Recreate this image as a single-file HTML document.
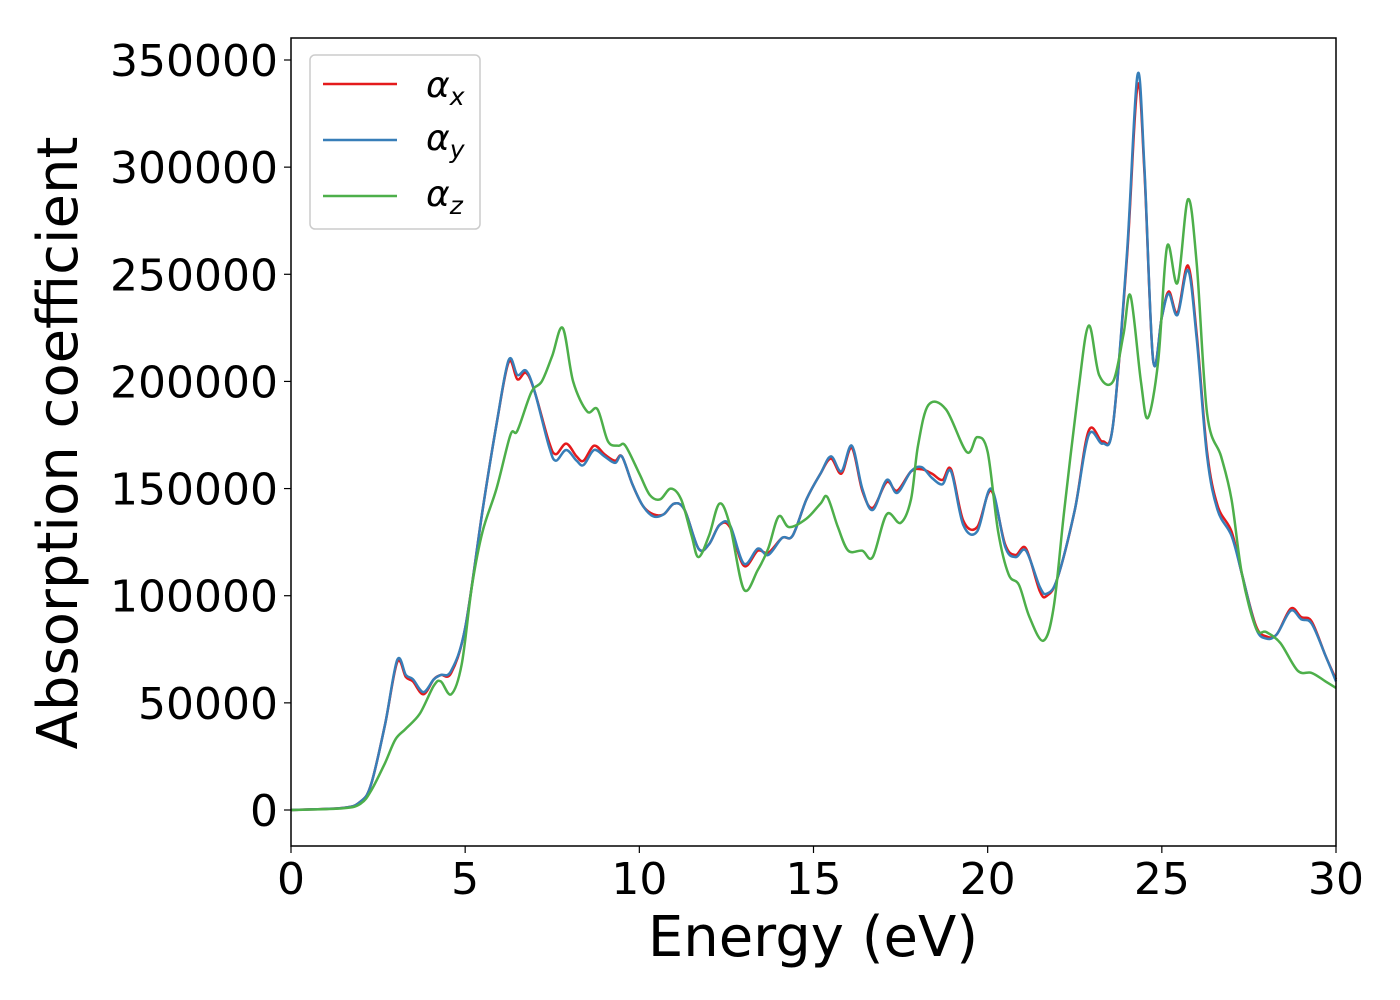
<!DOCTYPE html>
<html><head><meta charset="utf-8">
<style>
html,body{margin:0;padding:0;background:#fff;}
svg{display:block;font-family:"DejaVu Sans","Liberation Sans",sans-serif;}
</style></head>
<body>
<svg id="chart" width="1400" height="1000" viewBox="0 0 1400 1000" xmlns="http://www.w3.org/2000/svg">
<rect width="1400" height="1000" fill="#fff"/>
<g id="series"></g>
<rect x="291" y="38" width="1045" height="808" fill="none" stroke="#000" stroke-width="1.5"/>
<g id="xticks"></g>
<g id="yticks"></g>
<text x="813" y="956" font-size="56" text-anchor="middle">Energy (eV)</text>
<text transform="translate(77,443) rotate(-90)" font-size="56" text-anchor="middle">Absorption coefficient</text>
<g>
<rect x="310" y="55" width="170" height="174" rx="5" fill="#fff" stroke="#ccc" stroke-width="1.5"/>
<g><line x1="323" y1="84" x2="397" y2="84" stroke="#e41a1c" stroke-width="2.5"/><text x="426" y="97" font-size="36" font-style="italic">α<tspan font-size="25" dy="8">x</tspan></text></g>
<g><line x1="323" y1="140" x2="397" y2="140" stroke="#377eb8" stroke-width="2.5"/><text x="426" y="150" font-size="36" font-style="italic">α<tspan font-size="25" dy="8">y</tspan></text></g>
<g><line x1="323" y1="196" x2="397" y2="196" stroke="#4daf4a" stroke-width="2.5"/><text x="426" y="206" font-size="36" font-style="italic">α<tspan font-size="25" dy="8">z</tspan></text></g>
</g>
</svg>
<script>
const xTicks=[0,5,10,15,20,25,30];
const yTicks=[0,50000,100000,150000,200000,250000,300000,350000];
const energyY=[0,1.5,2.0,2.3,2.7,3.05,3.3,3.5,3.8,4.1,4.3,4.6,5.0,5.5,5.9,6.25,6.5,6.75,7.0,7.4,7.6,7.9,8.2,8.4,8.7,9.0,9.3,9.5,9.8,10.1,10.4,10.7,11.0,11.3,11.7,12.0,12.3,12.6,13.0,13.4,13.7,14.1,14.4,14.8,15.2,15.5,15.8,16.1,16.4,16.7,17.1,17.4,17.8,18.1,18.4,18.7,18.95,19.3,19.7,20.1,20.5,20.8,21.1,21.5,21.7,22.0,22.5,22.9,23.3,23.6,24.0,24.3,24.5,24.75,25.0,25.2,25.45,25.75,26.0,26.3,26.6,27.0,27.3,27.7,28.0,28.3,28.7,29.0,29.3,29.7,30.0];
const alphaY=[0,1000,4000,12000,40000,70000,63000,61000,55000,61000,63000,65000,85000,140000,180000,210000,203000,205000,195000,170000,163000,168000,163000,161000,168000,165000,162000,165000,152000,142000,137000,138000,143000,140000,122000,124000,133000,133000,115000,122000,119000,127000,128000,145000,157000,165000,158000,170000,150000,140000,154000,148000,158000,160000,155000,152000,158000,133000,130000,150000,123000,118000,121000,104000,101000,108000,140000,175000,171000,180000,260000,343000,300000,210000,230000,241000,231000,252000,220000,165000,140000,128000,110000,85000,80000,82000,93000,89000,87000,72000,60000];
const alphaX=[0,1000,4000,12000,40000,69000,62000,60000,54000,61000,63000,64000,85000,140000,180000,209000,201000,204000,195000,172000,166000,171000,165000,163000,170000,166000,163000,165000,152000,142000,138000,138000,143000,140000,122000,124000,133000,132000,114000,121000,120000,127000,128000,145000,157000,164000,157000,169000,149000,141000,153000,149000,158000,159000,157000,154000,159000,135000,132000,149000,124000,119000,122000,102000,100000,108000,140000,177000,172000,180000,258000,338000,298000,210000,230000,242000,232000,254000,222000,167000,142000,130000,110000,86000,81000,82000,94000,90000,88000,72000,61000];
const energyZ=[0,1.5,2.0,2.3,2.7,3.0,3.3,3.7,4.1,4.3,4.6,4.9,5.2,5.5,5.9,6.3,6.5,6.9,7.2,7.5,7.8,8.1,8.5,8.8,9.1,9.4,9.6,10.0,10.3,10.6,10.9,11.2,11.5,11.7,12.0,12.3,12.6,13.0,13.4,13.7,14.0,14.3,14.8,15.2,15.4,15.7,16.0,16.4,16.7,17.1,17.5,17.8,18.0,18.3,18.8,19.4,19.7,20.0,20.3,20.6,20.9,21.2,21.6,21.9,22.2,22.6,22.9,23.2,23.6,23.9,24.1,24.4,24.6,24.9,25.15,25.45,25.75,26.0,26.3,26.7,27.0,27.3,27.7,28.0,28.4,28.9,29.3,29.7,30.0];
const alphaZ=[0,800,3000,9000,22000,33000,38000,45000,58000,60000,54000,68000,105000,130000,150000,175000,177000,195000,200000,212000,225000,200000,186000,187000,172000,170000,170000,157000,147000,145000,150000,145000,128000,118000,128000,143000,133000,103000,112000,122000,137000,132000,136000,143000,146000,132000,121000,121000,118000,138000,134000,145000,170000,189000,187000,167000,174000,167000,130000,110000,105000,90000,79000,95000,140000,195000,226000,203000,200000,222000,240000,200000,183000,210000,263000,246000,285000,255000,185000,165000,145000,110000,85000,83000,78000,65000,64000,60000,57000];

const X0=291,X1=1336,YB=810,YT=60;
function sx(e){return X0+(e-0)/(30-0)*(X1-X0);}
function sy(v){return YB-v/350000*(YB-YT);}
const NS='http://www.w3.org/2000/svg';
function smoothPath(xs,ys){
  const p=xs.map((e,i)=>[sx(e),sy(ys[i])]);
  let d='M'+p[0][0].toFixed(1)+','+p[0][1].toFixed(1);
  for(let i=0;i<p.length-1;i++){
    const a=p[Math.max(0,i-1)],b=p[i],c=p[i+1],n=p[Math.min(p.length-1,i+2)];
    const c1=[b[0]+(c[0]-a[0])/6,b[1]+(c[1]-a[1])/6];
    const c2=[c[0]-(n[0]-b[0])/6,c[1]-(n[1]-b[1])/6];
    d+='C'+c1[0].toFixed(1)+','+c1[1].toFixed(1)+' '+c2[0].toFixed(1)+','+c2[1].toFixed(1)+' '+c[0].toFixed(1)+','+c[1].toFixed(1);
  }
  return d;
}
const sg=document.getElementById('series');
function addLine(xs,ys,color,name){
  const el=document.createElementNS(NS,'path');
  el.setAttribute('d',smoothPath(xs,ys));
  el.setAttribute('fill','none');
  el.setAttribute('stroke',color);
  el.setAttribute('stroke-width','2.5');
  el.setAttribute('stroke-linejoin','round');
  
  
  sg.appendChild(el);
}
addLine(energyY,alphaX,'#e41a1c','alpha-x-line');
addLine(energyY,alphaY,'#377eb8','alpha-y-line');
addLine(energyZ,alphaZ,'#4daf4a','alpha-z-line');

const xg=document.getElementById('xticks');
xTicks.forEach(t=>{
  const l=document.createElementNS(NS,'line');
  l.setAttribute('x1',sx(t));l.setAttribute('x2',sx(t));l.setAttribute('y1',846);l.setAttribute('y2',853);
  l.setAttribute('stroke','#000');l.setAttribute('stroke-width','1.2');
  
  
  xg.appendChild(l);
  const tx=document.createElementNS(NS,'text');
  tx.setAttribute('x',sx(t));tx.setAttribute('y',894);tx.setAttribute('font-size','44');tx.setAttribute('text-anchor','middle');
  tx.textContent=t;
  
  
  xg.appendChild(tx);
});
const yg=document.getElementById('yticks');
yTicks.forEach(t=>{
  const l=document.createElementNS(NS,'line');
  l.setAttribute('x1',284);l.setAttribute('x2',291);l.setAttribute('y1',sy(t));l.setAttribute('y2',sy(t));
  l.setAttribute('stroke','#000');l.setAttribute('stroke-width','1.2');
  
  
  yg.appendChild(l);
  const tx=document.createElementNS(NS,'text');
  tx.setAttribute('x',278);tx.setAttribute('y',sy(t)+16);tx.setAttribute('font-size','44');tx.setAttribute('text-anchor','end');
  tx.textContent=t;
  
  
  yg.appendChild(tx);
});
</script>
</body></html>
